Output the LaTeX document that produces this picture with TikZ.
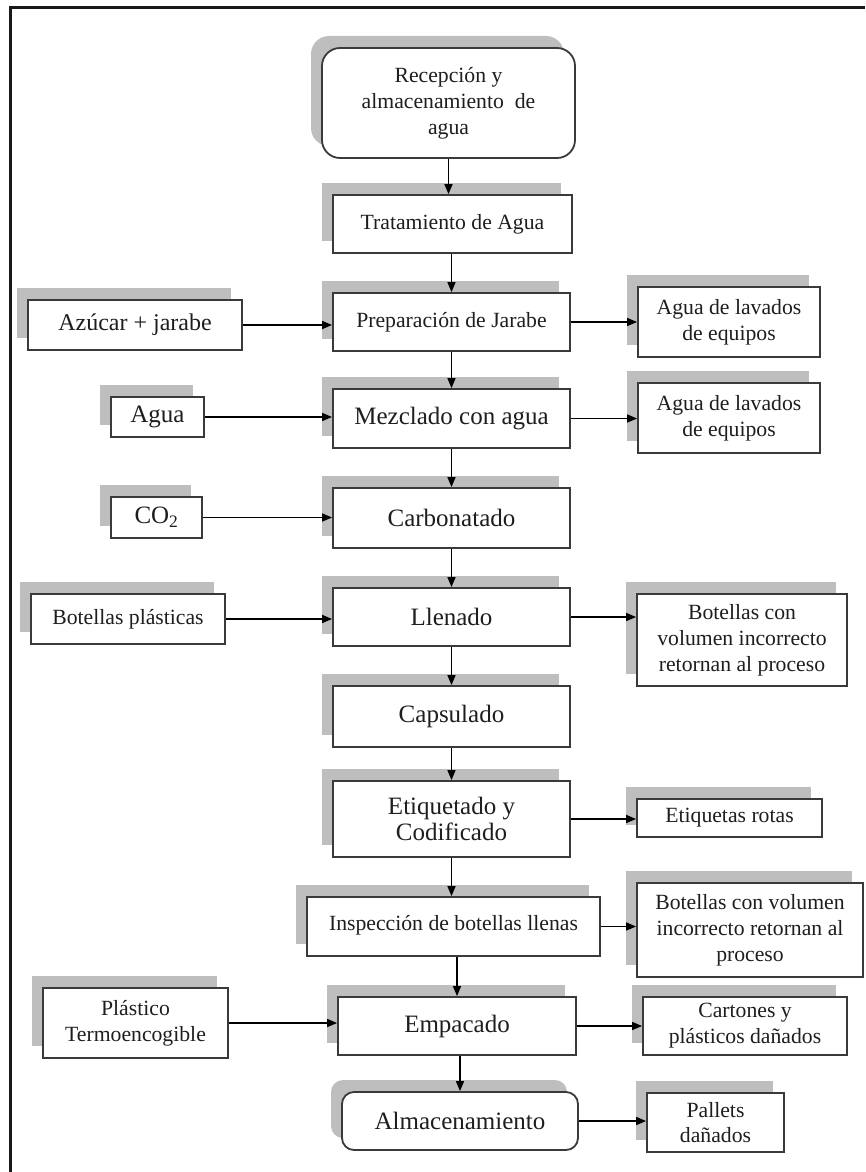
\documentclass[tikz,border=0pt]{standalone}
\usepackage{fontspec}
\setmainfont{Liberation Serif}
\usetikzlibrary{shadows,arrows.meta}
\definecolor{shadegray}{RGB}{190,190,190}
\definecolor{boxline}{RGB}{58,58,58}
\definecolor{inkcol}{RGB}{30,30,30}

\begin{document}
\begin{tikzpicture}[x=1pt,y=-1pt,
  box/.style={draw=boxline, line width=1.8pt, fill=white, align=center,
    inner sep=2pt, text=inkcol,
    copy shadow={shadow xshift=-11pt, shadow yshift=12pt, fill=shadegray, draw=none}},
  roundbox/.style={box, rounded corners=#1},
  small/.style={font=\fontsize{21.7}{25.8}\selectfont},
  big/.style={font=\fontsize{25}{26}\selectfont},
  sz/.style 2 args={minimum width=#1pt, minimum height=#2pt},
  arr/.style={draw=black, line width=1.5pt, -{Triangle[length=10pt,width=8pt]}},
]
\useasboundingbox (0,0) rectangle (865,1172);

% outer frame (left and top edges)
\draw[line width=3pt, color=black!90] (10,1172) -- (10,8) -- (865,8);

% main process column
\node[roundbox=18pt, small, sz={253}{110}] (rec) at (448.5,103)
  {Recepción y\\almacenamiento \ de\\agua};
\node[box, small, sz={239}{58}] (trat) at (452.5,224) {Tratamiento de Agua};
\node[box, small, sz={237}{58}] (prep) at (451.5,322) {Preparación de Jarabe};
\node[box, big, sz={237}{59}] (mez) at (451.5,418.5) {Mezclado con agua};
\node[box, big, sz={237}{60}] (carb) at (451.5,518) {Carbonatado};
\node[box, big, sz={237}{58}] (llen) at (451.5,617) {Llenado};
\node[box, big, sz={237}{61}] (caps) at (451.5,716.5) {Capsulado};
\node[box, big, sz={237}{76}] (etiq) at (451.5,819) {Etiquetado y\\Codificado};
\node[box, small, sz={293}{59}] (insp) at (453.5,926.5)
  {\raisebox{8pt}{Inspección de botellas llenas}};
\node[box, big, sz={238}{58}] (emp) at (457,1026) {Empacado};
\node[roundbox=12pt, big, sz={236}{58}] (alm) at (460,1121) {Almacenamiento};

% inputs (left)
\node[box, font=\fontsize{24}{28}\selectfont, sz={214}{50}] (azu) at (135,325) {Azúcar + jarabe};
\node[box, big, sz={93}{40}] (agua) at (157.5,417) {Agua};
\node[box, big, sz={91}{41}] (co2) at (156.5,517.5) {CO\textsubscript{2}};
\node[box, small, sz={194}{50}] (botp) at (128,619) {Botellas plásticas};
\node[box, small, sz={185}{70}] (plas) at (135.5,1023) {Plástico\\Termoencogible};

% outputs (right)
\node[box, small, sz={182}{70}] (lav1) at (729,322) {Agua de lavados\\de equipos};
\node[box, small, sz={182}{70}] (lav2) at (729,418) {Agua de lavados\\de equipos};
\node[box, small, sz={210}{92}] (bot1) at (742,640)
  {Botellas con\\volumen incorrecto\\retornan al proceso};
\node[box, small, sz={185}{38}] (rotas) at (729.5,818) {Etiquetas rotas};
\node[box, small, sz={226}{94}] (bot2) at (750,930)
  {Botellas con volumen\\incorrecto retornan al\\proceso};
\node[box, small, sz={204}{58}] (cart) at (745,1026) {Cartones y\\plásticos dañados};
\node[box, small, sz={137}{59}] (pal) at (715.5,1122.5) {Pallets\\dañados};

% vertical flow
\draw[arr] (rec.south) -- (rec.south |- trat.north);
\draw[arr] (trat.south -| prep.north) -- (prep.north);
\draw[arr] (prep.south) -- (prep.south |- mez.north);
\draw[arr] (mez.south) -- (mez.south |- carb.north);
\draw[arr] (carb.south) -- (carb.south |- llen.north);
\draw[arr] (llen.south) -- (llen.south |- caps.north);
\draw[arr] (caps.south) -- (caps.south |- etiq.north);
\draw[arr] (etiq.south) -- (etiq.south |- insp.north);
\draw[arr] (insp.south -| emp.north) -- (emp.north);
\draw[arr] (emp.south -| alm.north) -- (alm.north);

% inputs into the process
\draw[arr] (azu.east) -- (azu.east -| prep.west);
\draw[arr] (agua.east) -- (agua.east -| mez.west);
\draw[arr] (co2.east) -- (co2.east -| carb.west);
\draw[arr] (botp.east) -- (botp.east -| llen.west);
\draw[arr] (plas.east) -- (plas.east -| emp.west);

% outputs of the process
\draw[arr] (prep.east) -- (prep.east -| lav1.west);
\draw[arr] (mez.east) -- (mez.east -| lav2.west);
\draw[arr] (llen.east) -- (llen.east -| bot1.west);
\draw[arr] (etiq.east) -- (etiq.east -| rotas.west);
\draw[arr] (insp.east) -- (insp.east -| bot2.west);
\draw[arr] (emp.east) -- (emp.east -| cart.west);
\draw[arr] (alm.east) -- (alm.east -| pal.west);
\end{tikzpicture}
\end{document}
